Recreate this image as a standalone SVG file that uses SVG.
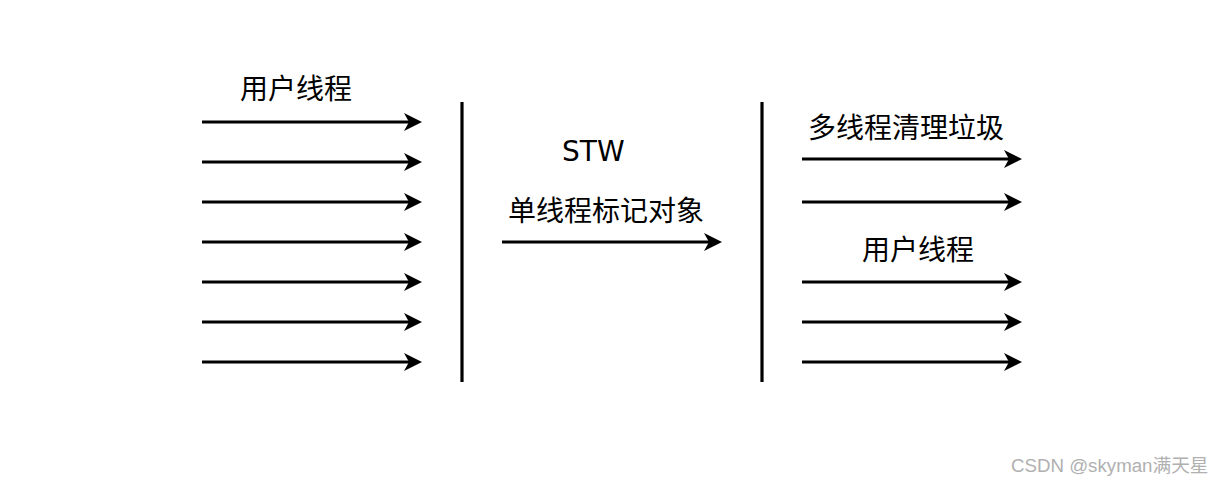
<svg xmlns="http://www.w3.org/2000/svg" width="1224" height="485" viewBox="0 0 1224 485">
<defs>
<marker id="ah" markerUnits="userSpaceOnUse" markerWidth="22" markerHeight="20" refX="5" refY="9" orient="auto">
<path d="M0,0 L18,9 L0,18 L5,9 Z" fill="#000"/>
</marker>
</defs>
<style>
.a{stroke:#000;stroke-width:3.2;fill:none;marker-end:url(#ah)}
.v{stroke:#000;stroke-width:3.2;fill:none}
.t{font-family:"DejaVu Sans","Noto Sans CJK SC",sans-serif;font-size:28px;fill:#000}
.w{font-family:"Liberation Sans","Noto Sans CJK SC",sans-serif;font-size:18.7px;fill:#b0b0b0}
</style>
<rect width="1224" height="485" fill="#fff"/>
<g id="connectors">
<line class="a" x1="202" y1="122" x2="409" y2="122"/>
<line class="a" x1="202" y1="162" x2="409" y2="162"/>
<line class="a" x1="202" y1="202" x2="409" y2="202"/>
<line class="a" x1="202" y1="242" x2="409" y2="242"/>
<line class="a" x1="202" y1="282" x2="409" y2="282"/>
<line class="a" x1="202" y1="322" x2="409" y2="322"/>
<line class="a" x1="202" y1="362" x2="409" y2="362"/>
<line class="a" x1="502" y1="242" x2="709" y2="242"/>
<line class="a" x1="802" y1="159" x2="1009" y2="159"/>
<line class="a" x1="802" y1="202" x2="1009" y2="202"/>
<line class="a" x1="802" y1="282" x2="1009" y2="282"/>
<line class="a" x1="802" y1="322" x2="1009" y2="322"/>
<line class="a" x1="802" y1="362" x2="1009" y2="362"/>
</g>
<g id="barrier-left"><line class="v" x1="462" y1="102" x2="462" y2="382"/></g>
<g id="barrier-right"><line class="v" x1="762" y1="102" x2="762" y2="382"/></g>
<g id="label-user-left"><text class="t" x="240" y="99">用户线程</text></g>
<g id="label-stw"><text class="t" x="562" y="161">STW</text></g>
<g id="label-mark"><text class="t" x="508" y="221">单线程标记对象</text></g>
<g id="label-gc"><text class="t" x="808" y="138">多线程清理垃圾</text></g>
<g id="label-user-right"><text class="t" x="862" y="260">用户线程</text></g>
<text class="w" x="1011" y="472">CSDN @skyman满天星</text>
</svg>
